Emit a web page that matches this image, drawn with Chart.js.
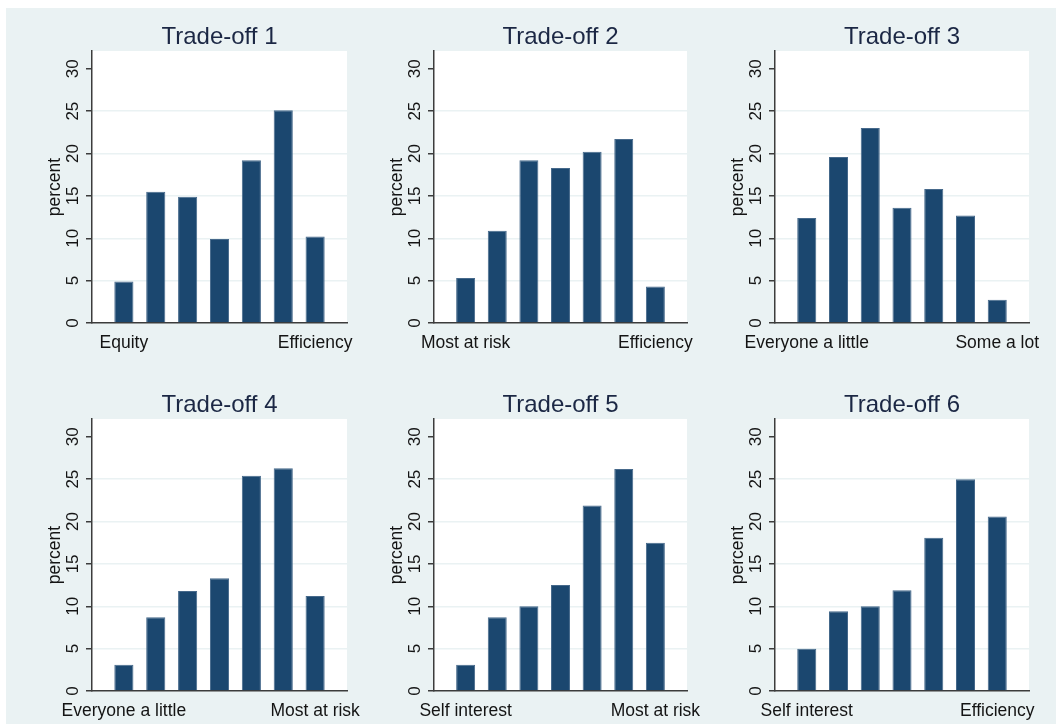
<!DOCTYPE html>
<html>
<head>
<meta charset="utf-8">
<script src="https://cdn.jsdelivr.net/npm/chart.js@4.4.1/dist/chart.umd.min.js"></script>
<style>
  html, body { margin: 0; padding: 0; background: #fff; overflow: hidden; width: 1056px; height: 724px; }
  #frame { position: absolute; left: 6px; top: 8px; width: 1050px; height: 716px; background: #eaf2f3; }
  canvas { position: absolute; }
</style>
</head>
<body>
<div id="frame"></div>
<script>
// panel titles and end labels of each scale
const titles = ['Trade-off 1', 'Trade-off 2', 'Trade-off 3', 'Trade-off 4', 'Trade-off 5', 'Trade-off 6'];
const leftLabels = ['Equity', 'Most at risk', 'Everyone a little', 'Everyone a little', 'Self interest', 'Self interest'];
const rightLabels = ['Efficiency', 'Efficiency', 'Some a lot', 'Most at risk', 'Most at risk', 'Efficiency'];

// percent of answers at each of the 7 scale points
const tradeoff1 = [4.9, 15.5, 14.9, 9.9, 19.2, 25.1, 10.2];
const tradeoff2 = [5.3, 10.9, 19.2, 18.3, 20.2, 21.7, 4.3];
const tradeoff3 = [12.4, 19.6, 23.0, 13.6, 15.8, 12.7, 2.75];
const tradeoff4 = [3.1, 8.7, 11.8, 13.3, 25.4, 26.3, 11.2];
const tradeoff5 = [3.1, 8.7, 10.0, 12.5, 21.9, 26.2, 17.5];
const tradeoff6 = [5.0, 9.4, 10.0, 11.9, 18.1, 25.0, 20.6];
const series = [tradeoff1, tradeoff2, tradeoff3, tradeoff4, tradeoff5, tradeoff6];

const yTicks = [0, 5, 10, 15, 20, 25, 30];
const yMax = 32.1;

// layout of the 2x3 grid
const colLeft = [6, 348, 689];
const colPlotW = [255, 253, 254];
const rowTop = [8, 376];
const canvasW = 380, canvasH = 360;
const axisW = 86, titleH = 43, xAxisH = 45;

const font = '"Liberation Sans", Arial, sans-serif';
const axisColor = '#3c3c3c';
const textColor = '#141414';
const titleColor = '#1b2744';
const barColor = '#1b476f';

Chart.defaults.font.family = font;

const plotBg = {
  id: 'plotBg',
  beforeDraw(chart) {
    const { ctx, chartArea: a } = chart;
    ctx.save();
    ctx.fillStyle = '#ffffff';
    ctx.fillRect(a.left, a.top, a.right - a.left, a.bottom - a.top);
    ctx.restore();
  }
};

series.forEach((values, i) => {
  const col = i % 3, row = Math.floor(i / 3);
  const canvas = document.createElement('canvas');
  canvas.width = canvasW;
  canvas.height = canvasH;
  canvas.style.left = colLeft[col] + 'px';
  canvas.style.top = rowTop[row] + 'px';
  document.body.appendChild(canvas);

  const labels = ['', leftLabels[i], '', '', '', '', '', rightLabels[i], ''];
  const data = [null, ...values, null];

  new Chart(canvas, {
    type: 'bar',
    data: {
      labels: labels,
      datasets: [{
        data: data,
        backgroundColor: barColor,
        borderColor: '#46698b',
        borderWidth: 1,
        barPercentage: 0.6,
        categoryPercentage: 1
      }]
    },
    options: {
      responsive: false,
      animation: false,
      events: [],
      layout: { padding: { left: 0, top: 0, bottom: 0, right: canvasW - axisW - colPlotW[col] } },
      plugins: {
        legend: { display: false },
        tooltip: { enabled: false },
        title: { display: false }
      },
      scales: {
        x: {
          type: 'category',
          offset: false,
          grid: { display: false, drawTicks: false },
          border: { display: true, color: axisColor, width: 1.5 },
          ticks: {
            autoSkip: false, maxRotation: 0, minRotation: 0, padding: 10,
            color: textColor, font: { size: 17.5 }
          },
          afterFit: s => { s.height = xAxisH; }
        },
        x2: {
          type: 'category',
          position: 'top',
          grid: { display: false, drawTicks: false },
          border: { display: false },
          ticks: { display: false },
          title: {
            display: true, text: titles[i], color: titleColor,
            font: { size: 24 }, padding: { top: 15, bottom: 0 }
          },
          afterFit: s => { s.height = titleH; }
        },
        y: {
          min: 0,
          max: yMax,
          afterBuildTicks: s => { s.ticks = yTicks.map(v => ({ value: v })); },
          grid: {
            color: c => (c.tick && c.tick.value > 0 && c.tick.value < 30) ? '#eaf2f3' : 'rgba(0,0,0,0)',
            lineWidth: 1.5,
            tickColor: axisColor,
            tickLength: 6,
            tickWidth: 1.5
          },
          border: { color: axisColor, width: 1.5 },
          ticks: {
            minRotation: 90, maxRotation: 90, crossAlign: 'center', padding: 3.5,
            color: textColor, font: { size: 17 }
          },
          title: {
            display: true, text: 'percent', color: textColor,
            font: { size: 17.5 }, padding: { top: 39, bottom: 0 }
          },
          afterFit: s => { s.width = axisW; }
        }
      }
    },
    plugins: [plotBg]
  });
});
</script>
</body>
</html>
